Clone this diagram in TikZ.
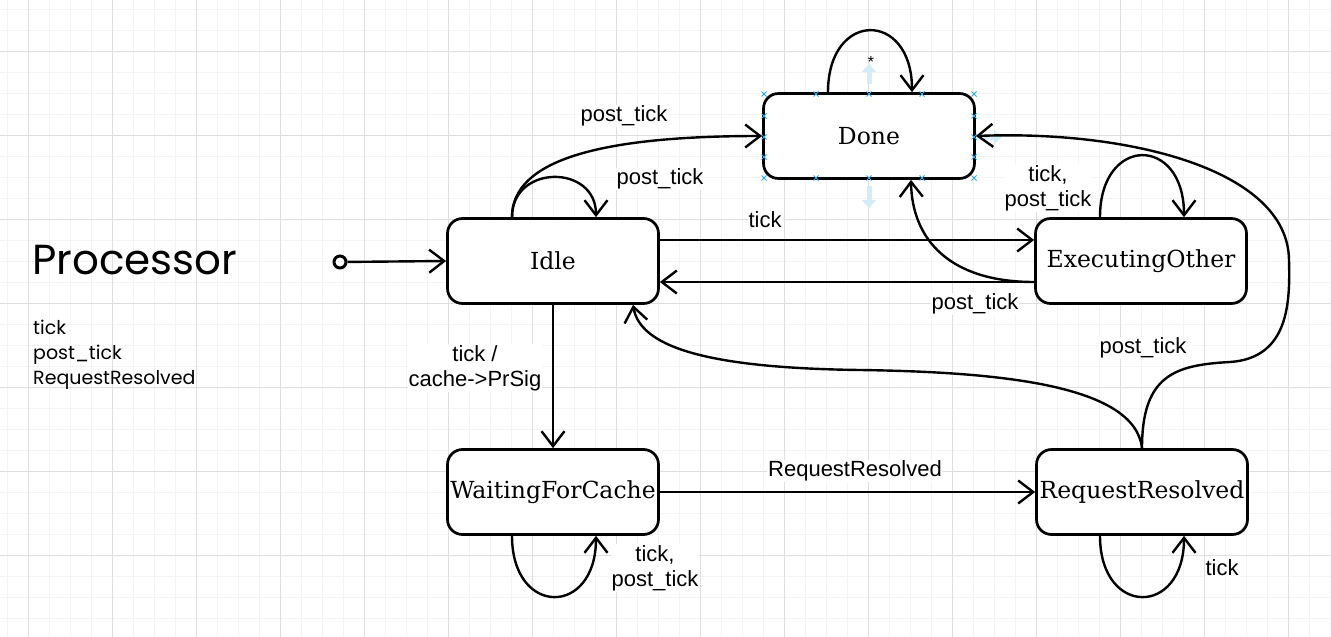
\documentclass[tikz,border=0pt]{standalone}
\usepackage{fontspec}
\setmainfont{DejaVu Serif}
\newfontfamily\lblfont{Liberation Sans}
\newfontfamily\handfont{Poppins}
\usetikzlibrary{arrows.meta}
\definecolor{gridmajor}{HTML}{DEDEDE}
\definecolor{gridminor}{HTML}{F4F4F4}
\definecolor{selblue}{HTML}{2EA6E8}
\definecolor{hoverblue}{HTML}{D4EBFA}
\tikzset{
  state/.style={draw, line width=2.7pt, rounded corners=15pt, fill=white, minimum width=211pt, minimum height=85pt, inner sep=2pt, font=\fontsize{23.5}{27}\selectfont},
  trans/.style={line width=2.4pt, -{Straight Barb[length=15pt,width=23pt,line width=2.4pt]}},
  lbl/.style={font=\lblfont\fontsize{22}{25}\selectfont, fill=white, inner sep=1pt, align=center},
}
\begin{document}
\begin{tikzpicture}[x=1pt,y=-1pt]
    \fill[white] (0,0) rectangle (1331,637);
    \useasboundingbox (0,0) rectangle (1331,637);
    \foreach \i in {0,...,63} \draw[gridminor, line width=1pt] ({7.3+21*\i},0) -- ({7.3+21*\i},637);
    \foreach \j in {0,...,30} \draw[gridminor, line width=1pt] (0,{9+21*\j}) -- (1331,{9+21*\j});
    \foreach \i in {0,...,15} \draw[gridmajor, line width=1pt] ({28.3+84*\i},0) -- ({28.3+84*\i},637);
    \foreach \j in {0,...,6} \draw[gridmajor, line width=1pt] (0,{51+84*\j}) -- (1331,{51+84*\j});

    \node[font=\handfont\fontsize{42}{46}\selectfont, anchor=base west, inner sep=0] (title) at (32,274) {Processor};
    \node[font=\handfont\fontsize{19}{25}\selectfont, anchor=north west, inner sep=0, align=left] (events) at (33,320) {tick\\post\_tick\\RequestResolved};

    \draw[hoverblue, line width=5pt, -{Triangle[length=8pt,width=14pt]}] (869,84) -- (869,64);
    \draw[hoverblue, line width=5pt, -{Triangle[length=8pt,width=14pt]}] (869,186) -- (869,208);
    \draw[hoverblue, line width=5pt, -{Triangle[length=8pt,width=14pt]}] (984,137) -- (1002,137);

    \node[state] (done) at (869,136) {Done};
    \node[state] (idle) at (553,261) {Idle};
    \node[state] (execother) at (1141,261) {ExecutingOther};
    \node[state] (waiting) at (553,492) {WaitingForCache};
    \node[state] (resolved) at (1142,492) {RequestResolved};
    \node[draw, circle, line width=3pt, minimum size=12pt, inner sep=0] (init) at (340,262) {};

    \draw[trans] (init) -- (idle.west);
    \draw[trans] ([xshift=-41pt]idle.north) .. controls (512,160) and (600,136) .. (done.west);
    \draw[trans] ([xshift=-41pt]idle.north) .. controls (512,164) and (596,164) .. ([xshift=43pt]idle.north);
    \draw[trans] ([yshift=21pt]idle.east) -- ([yshift=21pt]execother.west);
    \draw[trans] ([yshift=-21pt]execother.west) -- ([yshift=-21pt]idle.east);
    \draw[trans] ([yshift=-21pt]execother.west) .. controls (950,282) and (912,240) .. ([xshift=42pt]done.south);
    \draw[trans] ([xshift=-41pt]execother.north) .. controls (1100,135) and (1184,135) .. ([xshift=43pt]execother.north);
    \draw[trans] (idle.south) -- (waiting.north);
    \draw[trans] (waiting.east) -- (resolved.west);
    \draw[trans] ([xshift=-41pt]waiting.south) .. controls (512,617) and (596,617) .. ([xshift=43pt]waiting.south);
    \draw[trans] ([xshift=-42pt]resolved.south) .. controls (1100,617) and (1184,617) .. ([xshift=42pt]resolved.south);
    \draw[trans] (resolved.north) .. controls (1135,385) and (1000,372) .. (860,370) .. controls (700,368) and (640,345) .. ([xshift=80pt]idle.south);
    \draw[trans] (resolved.north) .. controls (1142,375) and (1175,365) .. (1230,362) .. controls (1290,358) and (1290,300) .. (1289,260) .. controls (1288,170) and (1130,130) .. (done.east);
    \draw[trans] ([xshift=-41pt]done.north) .. controls (828,10) and (912,10) .. ([xshift=43pt]done.north);

    \node[lbl] (l-idle-done) at (624,116) {post\_tick};
    \node[lbl] (l-idle-loop) at (660,179) {post\_tick};
    \node[lbl] (l-idle-exec) at (765,220) {tick};
    \node[lbl] (l-exec-idle) at (975,304) {post\_tick};
    \node[lbl] (l-exec-loop) at (1048,188) {tick,\\post\_tick};
    \node[lbl] (l-idle-wait) at (475,368) {tick /\\cache->PrSig};
    \node[lbl] (l-wait-res) at (855,471) {RequestResolved};
    \node[lbl] (l-wait-loop) at (655,568) {tick,\\post\_tick};
    \node[lbl] (l-res-loop) at (1222,568) {tick};
    \node[lbl] (l-res-done) at (1143,348) {post\_tick};
    \node[lbl, fill=none, font=\lblfont\fontsize{16}{18}\selectfont] (l-done-loop) at (871,62) {*};

    \foreach \cx/\cy in {764/94,816/94,869/94,922/94,974/94,764/116,974/116,764/137,974/137,764/157,974/157,764/178,816/178,869/178,922/178,974/178}
        \draw[selblue, line width=0.8pt] (\cx,\cy) ++(-2.5,-2.5) -- ++(5,5) ++(0,-5) -- ++(-5,5);
\end{tikzpicture}
\end{document}
